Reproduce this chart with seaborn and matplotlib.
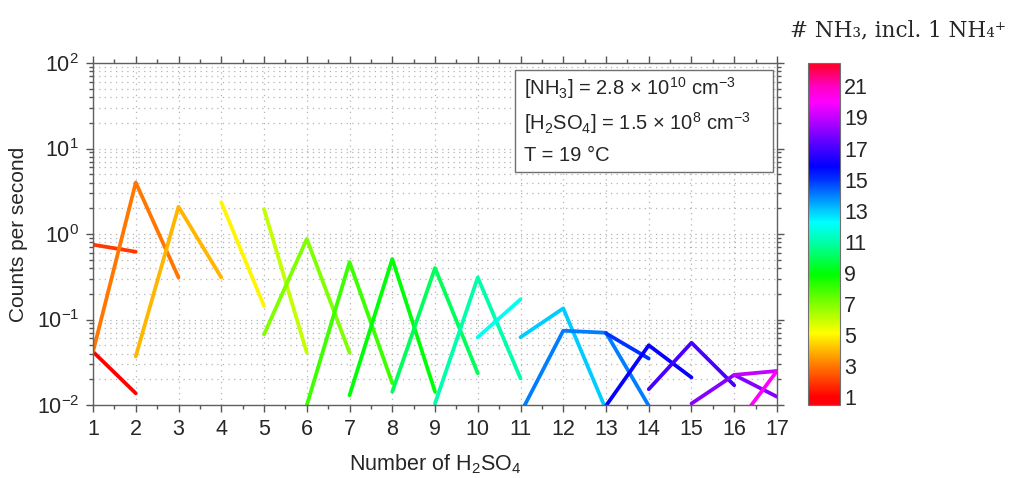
import numpy as np
import pandas as pd
import matplotlib
matplotlib.use("Agg")
import matplotlib.pyplot as plt
import seaborn as sns
from matplotlib.ticker import LogLocator, MultipleLocator, NullFormatter
from matplotlib.colors import Normalize, ListedColormap, hsv_to_rgb
from matplotlib.cm import ScalarMappable
from matplotlib.patches import Rectangle

# ---- data: one line per number of NH3 (incl. 1 NH4+) ----
nh3_count = [1, 2, 3, 4, 5, 6, 7, 8, 9, 10, 11, 12, 13, 14, 15, 16, 17, 18, 19, 20]
h2so4_number = [
    [1, 2],
    [1, 2],
    [1, 2, 3],
    [2, 3, 4],
    [4, 5],
    [5, 6],
    [5, 6, 7],
    [6, 7, 8],
    [7, 8, 9],
    [8, 9, 10],
    [9, 10, 11],
    [10, 11],
    [11, 12, 13],
    [11, 12, 13, 14],
    [13, 14],
    [13, 14, 15],
    [14, 15, 16],
    [15, 16, 17],
    [16, 17],
    [16, 17],
]
counts_per_second = [
    [0.042, 0.0137],
    [0.75, 0.62],
    [0.042, 4.0, 0.31],
    [0.037, 2.08, 0.31],
    [2.35, 0.144],
    [1.95, 0.041],
    [0.067, 0.875, 0.041],
    [0.0099, 0.47, 0.018],
    [0.013, 0.51, 0.0143],
    [0.0143, 0.40, 0.0235],
    [0.0104, 0.31, 0.0205],
    [0.062, 0.172],
    [0.062, 0.135, 0.0088],
    [0.008, 0.074, 0.070, 0.0098],
    [0.069, 0.035],
    [0.0098, 0.050, 0.021],
    [0.0153, 0.0535, 0.017],
    [0.0104, 0.0225, 0.0125],
    [0.0225, 0.025],
    [0.0054, 0.025],
]
cbar_ticks = list(range(1, 22, 2))
cbar_range = (0.5, 22.5)

# colour scale (hue in degrees at given NH3 numbers)
hue_nodes_m = [0.5, 1, 3, 5, 7, 9, 11, 13, 15, 17, 19, 21, 22.5]
hue_nodes_deg = [-4, 0, 28, 58, 90, 122, 160, 192, 228, 256, 286, 314, 352]

grid_m = np.linspace(cbar_range[0], cbar_range[1], 512)
hues = (np.interp(grid_m, hue_nodes_m, hue_nodes_deg) % 360) / 360.0
cmap = ListedColormap(hsv_to_rgb(np.stack([hues, np.ones_like(hues), np.ones_like(hues)], axis=1)))

rows = []
for m, ns, vs in zip(nh3_count, h2so4_number, counts_per_second):
    for n, v in zip(ns, vs):
        rows.append({"m": m, "n": n, "cps": v})
df = pd.DataFrame(rows)

sns.set_style("ticks")
plt.rcParams["font.family"] = ["Liberation Sans", "DejaVu Sans"]
plt.rcParams["mathtext.fontset"] = "custom"
plt.rcParams["mathtext.rm"] = "Liberation Sans"
plt.rcParams["mathtext.it"] = "Liberation Sans:italic"
plt.rcParams["mathtext.bf"] = "Liberation Sans:bold"

fig = plt.figure(figsize=(10.1, 4.78), dpi=100)
ax = fig.add_axes([0.0921, 0.1527, 0.6772, 0.7155])

sns.lineplot(data=df, x="n", y="cps", hue="m", palette=cmap,
             hue_norm=cbar_range, estimator=None, legend=False,
             linewidth=2.7, ax=ax)

ax.set_yscale("log")
ax.set_ylim(0.01, 100)
ax.set_xlim(1, 17)
ax.set_xticks(range(1, 18))
ax.xaxis.set_minor_locator(MultipleLocator(0.5))
ax.yaxis.set_major_locator(LogLocator(base=10, numticks=10))
ax.yaxis.set_minor_locator(LogLocator(base=10, subs=np.arange(2, 10), numticks=20))
ax.yaxis.set_minor_formatter(NullFormatter())

grid_kw = dict(linestyle=(0, (1, 3.5)), color="#b4b4b4", linewidth=0.9)
ax.grid(which="major", axis="x", **grid_kw)
ax.grid(which="both", axis="y", **grid_kw)

ax.tick_params(which="both", direction="out", top=True, right=True,
               labelsize=15.5, color="#555555", width=1)
ax.tick_params(which="major", length=5, pad=5)
ax.tick_params(which="minor", length=3)
for s in ax.spines.values():
    s.set_color("#606060")
    s.set_linewidth(1)

ax.set_xlabel("Number of H$_2$SO$_4$", fontsize=15.5, labelpad=9)
ax.set_ylabel("Counts per second", fontsize=15, labelpad=6)

# annotation box
ax.add_patch(Rectangle((0.617, 0.681), 0.377, 0.2985, transform=ax.transAxes,
                       facecolor="white", edgecolor="#707070", linewidth=1, zorder=5))
ann = ["[NH$_3$] = 2.8 × 10$^{10}$ cm$^{-3}$",
       "[H$_2$SO$_4$] = 1.5 × 10$^{8}$ cm$^{-3}$",
       "T = 19 °C"]
for txt, yy in zip(ann, [0.928, 0.825, 0.731]):
    ax.text(0.630, yy, txt, transform=ax.transAxes, ha="left", va="center",
            fontsize=14.5, zorder=6)

# colorbar
cax = fig.add_axes([0.8, 0.1527, 0.0317, 0.7155])
sm = ScalarMappable(norm=Normalize(*cbar_range), cmap=cmap)
cb = fig.colorbar(sm, cax=cax, ticks=cbar_ticks)
cb.ax.tick_params(labelsize=15.5, direction="in", length=3, left=True, right=True,
                  color="#555555", pad=3)
cb.outline.set_edgecolor("#707070")

fig.text(0.889, 0.937, "# NH₃, incl. 1 NH₄⁺", ha="center", va="center",
         family=["DejaVu Serif"], fontsize=15.5)

fig.savefig("out.png", dpi=100)
